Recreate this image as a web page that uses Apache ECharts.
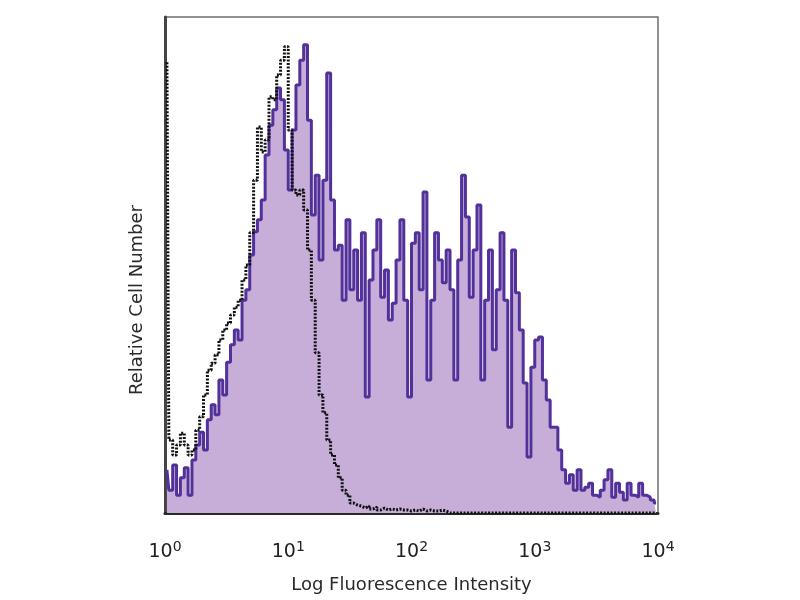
<!DOCTYPE html>
<html>
<head>
<meta charset="utf-8">
<script src="https://cdn.jsdelivr.net/npm/echarts@6/dist/echarts.min.js"></script>
<style>
  html, body { margin: 0; padding: 0; background: #fff; }
  #chart { width: 800px; height: 600px; }
</style>
</head>
<body>
<div id="chart"></div>
<script>
// 1024 channels over 4 decades, 8 channels per bin
const binWidth = 8
const decadeTicks = [0, 1, 2, 3, 4]

// stained sample (purple, filled)
const stained = [
  8.7, 4.6, 9.7, 3.6, 7.1, 9.1, 3.6, 10.7, 13.7, 16.3,
  12.7, 18.8, 21.8, 19.8, 26.8, 23.8, 30.4, 33.9, 36.9, 34.9,
  42.9, 45.0, 52.0, 56.7, 59.1, 63.1, 72.2, 78.2, 81.3, 85.7,
  83.3, 73.2, 65.1, 77.2, 86.3, 91.3, 94.4, 79.2, 60.1, 68.1,
  51.0, 67.1, 88.7, 63.1, 53.0, 54.0, 42.9, 59.1, 45.0, 53.0,
  42.9, 56.5, 23.4, 47.0, 53.0, 59.1, 43.5, 49.0, 38.9, 42.3,
  51.0, 59.1, 42.9, 23.4, 54.4, 56.5, 45.0, 64.7, 26.8, 42.9,
  56.5, 51.0, 46.4, 53.0, 45.0, 26.8, 51.0, 68.1, 59.7, 43.5,
  53.0, 62.1, 26.8, 42.9, 53.0, 32.9, 45.0, 56.5, 42.9, 17.3,
  53.0, 44.4, 36.9, 26.2, 11.3, 29.4, 34.9, 35.5, 26.8, 22.8,
  17.3, 17.3, 12.7, 8.7, 6.0, 7.7, 4.6, 8.7, 4.6, 5.2,
  6.0, 3.6, 3.2, 4.6, 6.7, 8.7, 3.2, 6.0, 4.2, 2.6,
  6.0, 3.6, 3.2, 6.0, 3.6, 3.2, 2.6, 2.0
]

// isotype control (black, dotted)
const control = [
  90.9, 14.7, 11.7, 13.7, 16.1, 13.7, 11.7, 12.7, 16.7, 19.4,
  23.8, 28.8, 30.2, 31.9, 34.9, 36.9, 38.3, 39.9, 41.5, 42.9,
  47.0, 50.0, 56.5, 67.1, 77.8, 72.8, 75.2, 83.9, 83.3, 88.3,
  91.3, 94.0, 77.2, 65.1, 64.1, 65.1, 61.1, 53.0, 42.9, 32.3,
  23.8, 20.2, 14.7, 11.7, 9.7, 7.1, 4.6, 3.6, 2.0, 1.6,
  1.4, 1.0, 1.4, 0.8, 1.2, 0.6, 1.0, 0.6, 0.8, 0.6,
  0.8, 0.6, 0.6, 0.4, 0.6, 0.4, 0.8, 0.4, 0.6, 0.4,
  0.4, 0.6, 0.4, 0, 0, 0, 0, 0, 0, 0,
  0, 0, 0, 0, 0, 0, 0, 0, 0, 0,
  0, 0, 0, 0, 0, 0, 0, 0, 0, 0,
  0, 0, 0, 0, 0, 0, 0, 0, 0, 0,
  0, 0, 0, 0, 0, 0, 0, 0, 0, 0,
  0, 0, 0, 0, 0, 0, 0, 0
]

const toPoints = (arr) => arr.map((v, i) => [i * binWidth + binWidth / 2, v])

const chart = echarts.init(document.getElementById('chart'))

chart.setOption({
  backgroundColor: '#fff',
  animation: false,
  grid: {
    left: 165,
    right: 142,
    top: 17,
    bottom: 87,
    show: true,
    borderColor: '#6e6e6e',
    borderWidth: 1.5
  },
  xAxis: {
    type: 'value',
    min: 0,
    max: 1024,
    interval: 256,
    name: 'Log Fluorescence Intensity',
    nameLocation: 'middle',
    nameGap: 63,
    nameTextStyle: {
      fontFamily: 'DejaVu Sans',
      fontSize: 18,
      color: '#2a2a2a'
    },
    axisLine: { show: true, lineStyle: { color: '#2a2a2a', width: 3 } },
    axisTick: { show: false },
    splitLine: { show: false },
    axisLabel: {
      margin: 27,
      formatter: (v) => '10{sup|' + decadeTicks[Math.round(v / 256)] + '}',
      fontFamily: 'DejaVu Sans',
      fontSize: 19,
      color: '#222',
      rich: {
        sup: {
          fontFamily: 'DejaVu Sans',
          fontSize: 14,
          color: '#222',
          verticalAlign: 'top',
          padding: [0, 0, 10, 0]
        }
      }
    }
  },
  yAxis: {
    type: 'value',
    min: 0,
    max: 100,
    axisLine: { show: true, lineStyle: { color: '#444', width: 3 } },
    axisTick: { show: false },
    axisLabel: { show: false },
    splitLine: { show: false }
  },
  graphic: [{
    type: 'text',
    x: 137,
    y: 300,
    rotation: Math.PI / 2,
    style: {
      text: 'Relative Cell Number',
      fontFamily: 'DejaVu Sans',
      fontSize: 18,
      fill: '#2a2a2a',
      align: 'center',
      verticalAlign: 'middle'
    }
  }],
  series: [
    {
      name: 'Stained',
      type: 'line',
      step: 'middle',
      symbol: 'none',
      data: toPoints(stained),
      lineStyle: { color: '#53319a', width: 3 },
      areaStyle: { color: '#c6aed9', opacity: 1 },
      z: 2
    },
    {
      name: 'Control',
      type: 'line',
      step: 'middle',
      symbol: 'none',
      data: toPoints(control),
      lineStyle: { color: '#111', width: 3, type: [2, 1.5] },
      z: 3
    }
  ]
})
</script>
</body>
</html>
